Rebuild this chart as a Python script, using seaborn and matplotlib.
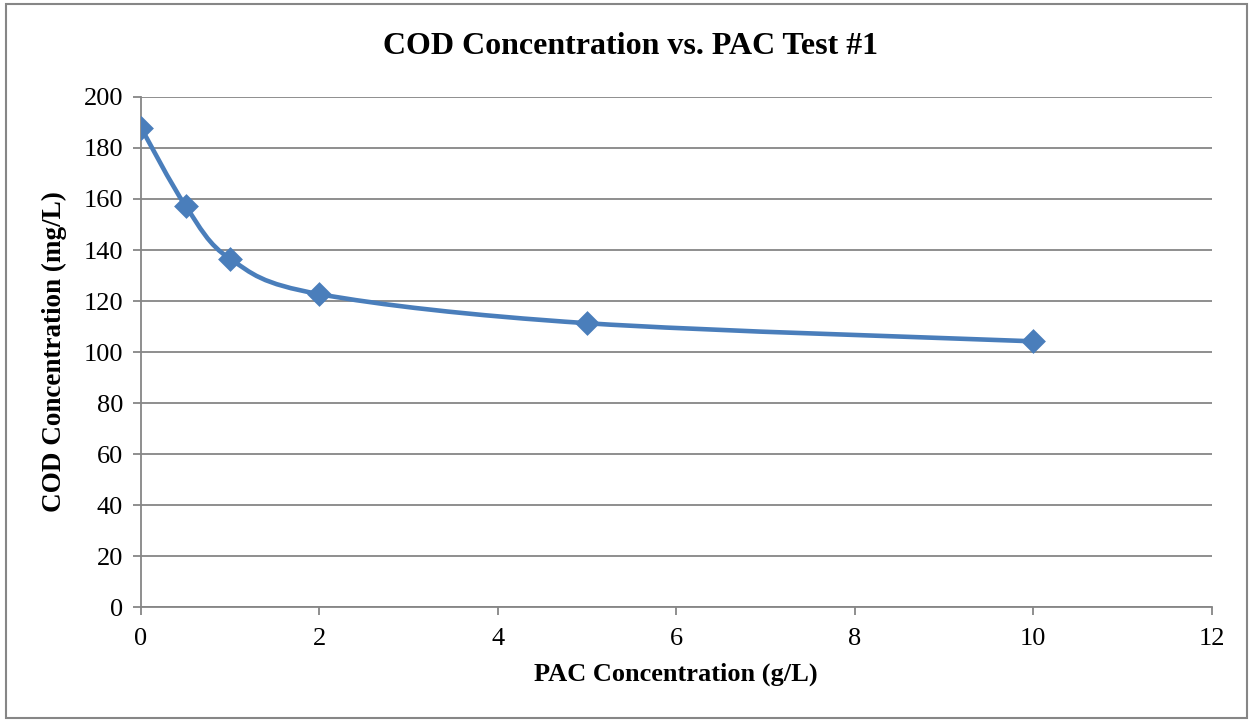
import matplotlib
matplotlib.use("Agg")
import matplotlib.pyplot as plt
import numpy as np
import pandas as pd
import seaborn as sns
from matplotlib.path import Path
from matplotlib.patches import PathPatch, Rectangle

# data
pac_conc = [0, 0.5, 1, 2, 5, 10]
cod_conc = [188, 157.3, 136.5, 122.7, 111.3, 104.2]
x_ticks = [0, 2, 4, 6, 8, 10, 12]
y_ticks = [0, 20, 40, 60, 80, 100, 120, 140, 160, 180, 200]

df = pd.DataFrame({"PAC": pac_conc, "COD": cod_conc})

sns.set_theme(style="white")
plt.rcParams["font.family"] = ["Liberation Serif", "DejaVu Serif"]
plt.rcParams["text.color"] = "black"
plt.rcParams["axes.labelcolor"] = "black"

line_color = "#4a7ebb"
grid_color = "#868686"

fig = plt.figure(figsize=(12.53, 7.21), dpi=100)
ax = fig.add_axes([0.1125, 0.158, 0.8545, 0.7075])


def smooth_path(xs, ys):
    # Excel-like smoothed line: cubic bezier through each point (catmull-rom)
    pts = np.column_stack([xs, ys]).astype(float)
    n = len(pts)
    verts = [pts[0]]
    codes = [Path.MOVETO]
    for i in range(n - 1):
        p0 = pts[i - 1] if i > 0 else pts[i]
        p1 = pts[i]
        p2 = pts[i + 1]
        p3 = pts[i + 2] if i + 2 < n else pts[i + 1]
        c1 = p1 + (p2 - p0) / 6.0
        c2 = p2 - (p3 - p1) / 6.0
        verts += [c1, c2, p2]
        codes += [Path.CURVE4] * 3
    return Path(verts, codes)


patch = PathPatch(smooth_path(df["PAC"], df["COD"]), facecolor="none",
                  edgecolor=line_color, linewidth=3.3, capstyle="round",
                  joinstyle="round", zorder=3)
ax.add_patch(patch)

sns.scatterplot(data=df, x="PAC", y="COD", marker="D", s=160,
                color=line_color, edgecolor=line_color, linewidth=0,
                ax=ax, zorder=4)

ax.set_xlim(0, 12)
ax.set_ylim(0, 200)
ax.set_xticks(x_ticks)
ax.set_yticks(y_ticks)
ax.set_xticklabels([str(t) for t in x_ticks], fontsize=19, color="black")
ax.set_yticklabels([str(t) for t in y_ticks], fontsize=19, color="black")

ax.yaxis.grid(True, color=grid_color, linewidth=1.3)
ax.xaxis.grid(False)
ax.set_axisbelow(True)

for side in ["top", "right"]:
    ax.spines[side].set_visible(False)
for side in ["left", "bottom"]:
    ax.spines[side].set_color(grid_color)
    ax.spines[side].set_linewidth(1.3)

ax.tick_params(axis="both", direction="out", length=6, width=1.3,
               color=grid_color, labelcolor="black", bottom=True, left=True)
ax.tick_params(axis="x", pad=9)
ax.tick_params(axis="y", pad=7)

ax.set_xlabel("PAC Concentration (g/L)", fontsize=19, fontweight="bold",
              color="black", labelpad=9)
ax.set_ylabel("COD Concentration (mg/L)", fontsize=19.5, fontweight="bold",
              color="black", labelpad=12)
# title is centred on the whole chart, not on the plot area
ax.set_title("COD Concentration vs. PAC Test #1", fontsize=23,
             fontweight="bold", color="black", pad=31, x=0.4575)

fig.patches.append(Rectangle((0.005, 0.004), 0.99, 0.991, transform=fig.transFigure,
                             fill=False, edgecolor=grid_color, linewidth=1.5))

fig.savefig("out.png", dpi=100)
